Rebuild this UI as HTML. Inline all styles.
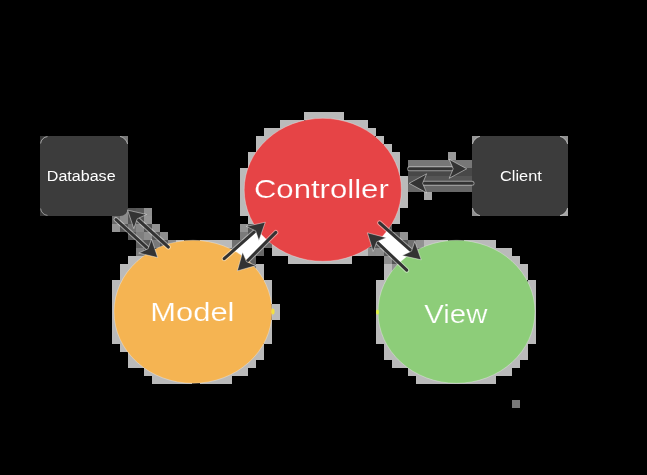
<!DOCTYPE html>
<html><head><meta charset="utf-8"><style>
html,body{margin:0;padding:0;background:#000;width:647px;height:475px;overflow:hidden}
svg{display:block;will-change:transform}
text{font-family:"Liberation Sans",sans-serif}
</style></head><body>
<svg width="647" height="475" viewBox="0 0 647 475">
<rect width="647" height="475" fill="#000"/>
<rect x="304" y="112" width="8" height="8" fill="rgb(186,186,186)"/>
<rect x="312" y="112" width="8" height="8" fill="rgb(186,186,186)"/>
<rect x="320" y="112" width="8" height="8" fill="rgb(186,186,186)"/>
<rect x="328" y="112" width="8" height="8" fill="rgb(186,186,186)"/>
<rect x="336" y="112" width="8" height="8" fill="rgb(186,186,186)"/>
<rect x="280" y="120" width="8" height="8" fill="rgb(186,186,186)"/>
<rect x="288" y="120" width="8" height="8" fill="rgb(186,186,186)"/>
<rect x="296" y="120" width="8" height="8" fill="rgb(186,186,186)"/>
<rect x="336" y="120" width="8" height="8" fill="rgb(186,186,186)"/>
<rect x="344" y="120" width="8" height="8" fill="rgb(186,186,186)"/>
<rect x="352" y="120" width="8" height="8" fill="rgb(186,186,186)"/>
<rect x="360" y="120" width="8" height="8" fill="rgb(186,186,186)"/>
<rect x="264" y="128" width="8" height="8" fill="rgb(186,186,186)"/>
<rect x="272" y="128" width="8" height="8" fill="rgb(186,186,186)"/>
<rect x="280" y="128" width="8" height="8" fill="rgb(186,186,186)"/>
<rect x="360" y="128" width="8" height="8" fill="rgb(186,186,186)"/>
<rect x="368" y="128" width="8" height="8" fill="rgb(186,186,186)"/>
<rect x="40" y="136" width="8" height="8" fill="rgb(60,60,60)"/>
<rect x="120" y="136" width="8" height="8" fill="rgb(140,140,140)"/>
<rect x="256" y="136" width="8" height="8" fill="rgb(186,186,186)"/>
<rect x="264" y="136" width="8" height="8" fill="rgb(186,186,186)"/>
<rect x="376" y="136" width="8" height="8" fill="rgb(186,186,186)"/>
<rect x="472" y="136" width="8" height="8" fill="rgb(140,140,140)"/>
<rect x="560" y="136" width="8" height="8" fill="rgb(140,140,140)"/>
<rect x="256" y="144" width="8" height="8" fill="rgb(186,186,186)"/>
<rect x="384" y="144" width="8" height="8" fill="rgb(186,186,186)"/>
<rect x="248" y="152" width="8" height="8" fill="rgb(186,186,186)"/>
<rect x="384" y="152" width="8" height="8" fill="rgb(186,186,186)"/>
<rect x="392" y="152" width="8" height="8" fill="rgb(186,186,186)"/>
<rect x="448" y="152" width="8" height="8" fill="rgb(153,153,153)"/>
<rect x="248" y="160" width="8" height="8" fill="rgb(186,186,186)"/>
<rect x="392" y="160" width="8" height="8" fill="rgb(186,186,186)"/>
<rect x="408" y="160" width="8" height="8" fill="rgb(119,119,119)"/>
<rect x="416" y="160" width="8" height="8" fill="rgb(119,119,119)"/>
<rect x="424" y="160" width="8" height="8" fill="rgb(119,119,119)"/>
<rect x="432" y="160" width="8" height="8" fill="rgb(119,119,119)"/>
<rect x="440" y="160" width="8" height="8" fill="rgb(119,119,119)"/>
<rect x="448" y="160" width="8" height="8" fill="rgb(119,119,119)"/>
<rect x="456" y="160" width="8" height="8" fill="rgb(119,119,119)"/>
<rect x="464" y="160" width="8" height="8" fill="rgb(119,119,119)"/>
<rect x="240" y="168" width="8" height="8" fill="rgb(186,186,186)"/>
<rect x="392" y="168" width="8" height="8" fill="rgb(186,186,186)"/>
<rect x="408" y="168" width="8" height="8" fill="rgb(72,72,72)"/>
<rect x="416" y="168" width="8" height="8" fill="rgb(72,72,72)"/>
<rect x="424" y="168" width="8" height="8" fill="rgb(72,72,72)"/>
<rect x="432" y="168" width="8" height="8" fill="rgb(72,72,72)"/>
<rect x="440" y="168" width="8" height="8" fill="rgb(72,72,72)"/>
<rect x="448" y="168" width="8" height="8" fill="rgb(72,72,72)"/>
<rect x="456" y="168" width="8" height="8" fill="rgb(72,72,72)"/>
<rect x="464" y="168" width="8" height="8" fill="rgb(72,72,72)"/>
<rect x="240" y="176" width="8" height="8" fill="rgb(186,186,186)"/>
<rect x="400" y="176" width="8" height="8" fill="rgb(186,186,186)"/>
<rect x="408" y="176" width="8" height="8" fill="rgb(85,85,85)"/>
<rect x="416" y="176" width="8" height="8" fill="rgb(85,85,85)"/>
<rect x="424" y="176" width="8" height="8" fill="rgb(85,85,85)"/>
<rect x="432" y="176" width="8" height="8" fill="rgb(85,85,85)"/>
<rect x="440" y="176" width="8" height="8" fill="rgb(85,85,85)"/>
<rect x="448" y="176" width="8" height="8" fill="rgb(85,85,85)"/>
<rect x="456" y="176" width="8" height="8" fill="rgb(85,85,85)"/>
<rect x="464" y="176" width="8" height="8" fill="rgb(85,85,85)"/>
<rect x="240" y="184" width="8" height="8" fill="rgb(186,186,186)"/>
<rect x="400" y="184" width="8" height="8" fill="rgb(186,186,186)"/>
<rect x="408" y="184" width="8" height="8" fill="rgb(103,103,103)"/>
<rect x="416" y="184" width="8" height="8" fill="rgb(103,103,103)"/>
<rect x="424" y="184" width="8" height="8" fill="rgb(103,103,103)"/>
<rect x="432" y="184" width="8" height="8" fill="rgb(103,103,103)"/>
<rect x="440" y="184" width="8" height="8" fill="rgb(103,103,103)"/>
<rect x="448" y="184" width="8" height="8" fill="rgb(103,103,103)"/>
<rect x="456" y="184" width="8" height="8" fill="rgb(103,103,103)"/>
<rect x="464" y="184" width="8" height="8" fill="rgb(103,103,103)"/>
<rect x="240" y="192" width="8" height="8" fill="rgb(186,186,186)"/>
<rect x="400" y="192" width="8" height="8" fill="rgb(186,186,186)"/>
<rect x="424" y="192" width="8" height="8" fill="rgb(168,168,168)"/>
<rect x="240" y="200" width="8" height="8" fill="rgb(186,186,186)"/>
<rect x="392" y="200" width="8" height="8" fill="rgb(186,186,186)"/>
<rect x="400" y="200" width="8" height="8" fill="rgb(186,186,186)"/>
<rect x="40" y="208" width="8" height="8" fill="rgb(60,60,60)"/>
<rect x="120" y="208" width="8" height="8" fill="rgb(140,140,140)"/>
<rect x="128" y="208" width="8" height="8" fill="rgb(85,85,85)"/>
<rect x="136" y="208" width="8" height="8" fill="rgb(89,89,89)"/>
<rect x="144" y="208" width="8" height="8" fill="rgb(144,144,144)"/>
<rect x="240" y="208" width="8" height="8" fill="rgb(186,186,186)"/>
<rect x="248" y="208" width="8" height="8" fill="rgb(186,186,186)"/>
<rect x="392" y="208" width="8" height="8" fill="rgb(186,186,186)"/>
<rect x="472" y="208" width="8" height="8" fill="rgb(140,140,140)"/>
<rect x="560" y="208" width="8" height="8" fill="rgb(140,140,140)"/>
<rect x="112" y="216" width="8" height="8" fill="rgb(105,105,105)"/>
<rect x="120" y="216" width="8" height="8" fill="rgb(139,139,139)"/>
<rect x="128" y="216" width="8" height="8" fill="rgb(85,85,85)"/>
<rect x="136" y="216" width="8" height="8" fill="rgb(85,85,85)"/>
<rect x="144" y="216" width="8" height="8" fill="rgb(148,148,148)"/>
<rect x="248" y="216" width="8" height="8" fill="rgb(186,186,186)"/>
<rect x="392" y="216" width="8" height="8" fill="rgb(186,186,186)"/>
<rect x="112" y="224" width="8" height="8" fill="rgb(148,148,148)"/>
<rect x="120" y="224" width="8" height="8" fill="rgb(85,85,85)"/>
<rect x="128" y="224" width="8" height="8" fill="rgb(116,116,116)"/>
<rect x="136" y="224" width="8" height="8" fill="rgb(137,137,137)"/>
<rect x="144" y="224" width="8" height="8" fill="rgb(85,85,85)"/>
<rect x="152" y="224" width="8" height="8" fill="rgb(145,145,145)"/>
<rect x="240" y="224" width="8" height="8" fill="rgb(147,147,147)"/>
<rect x="248" y="224" width="8" height="8" fill="rgb(85,85,85)"/>
<rect x="384" y="224" width="8" height="8" fill="rgb(90,90,90)"/>
<rect x="128" y="232" width="8" height="8" fill="rgb(89,89,89)"/>
<rect x="136" y="232" width="8" height="8" fill="rgb(126,126,126)"/>
<rect x="144" y="232" width="8" height="8" fill="rgb(141,141,141)"/>
<rect x="152" y="232" width="8" height="8" fill="rgb(85,85,85)"/>
<rect x="160" y="232" width="8" height="8" fill="rgb(141,141,141)"/>
<rect x="240" y="232" width="8" height="8" fill="rgb(122,122,122)"/>
<rect x="248" y="232" width="8" height="8" fill="rgb(87,87,87)"/>
<rect x="256" y="232" width="8" height="8" fill="rgb(87,87,87)"/>
<rect x="264" y="232" width="8" height="8" fill="rgb(107,107,107)"/>
<rect x="376" y="232" width="8" height="8" fill="rgb(85,85,85)"/>
<rect x="384" y="232" width="8" height="8" fill="rgb(124,124,124)"/>
<rect x="392" y="232" width="8" height="8" fill="rgb(85,85,85)"/>
<rect x="400" y="232" width="8" height="8" fill="rgb(148,148,148)"/>
<rect x="136" y="240" width="8" height="8" fill="rgb(97,97,97)"/>
<rect x="144" y="240" width="8" height="8" fill="rgb(85,85,85)"/>
<rect x="152" y="240" width="8" height="8" fill="rgb(122,122,122)"/>
<rect x="160" y="240" width="8" height="8" fill="rgb(85,85,85)"/>
<rect x="168" y="240" width="8" height="8" fill="rgb(139,139,139)"/>
<rect x="176" y="240" width="8" height="8" fill="rgb(186,186,186)"/>
<rect x="200" y="240" width="8" height="8" fill="rgb(186,186,186)"/>
<rect x="208" y="240" width="8" height="8" fill="rgb(186,186,186)"/>
<rect x="216" y="240" width="8" height="8" fill="rgb(186,186,186)"/>
<rect x="224" y="240" width="8" height="8" fill="rgb(186,186,186)"/>
<rect x="232" y="240" width="8" height="8" fill="rgb(112,112,112)"/>
<rect x="240" y="240" width="8" height="8" fill="rgb(97,97,97)"/>
<rect x="256" y="240" width="8" height="8" fill="rgb(107,107,107)"/>
<rect x="264" y="240" width="8" height="8" fill="rgb(104,104,104)"/>
<rect x="272" y="240" width="8" height="8" fill="rgb(186,186,186)"/>
<rect x="368" y="240" width="8" height="8" fill="rgb(85,85,85)"/>
<rect x="376" y="240" width="8" height="8" fill="rgb(85,85,85)"/>
<rect x="384" y="240" width="8" height="8" fill="rgb(147,147,147)"/>
<rect x="392" y="240" width="8" height="8" fill="rgb(137,137,137)"/>
<rect x="400" y="240" width="8" height="8" fill="rgb(85,85,85)"/>
<rect x="408" y="240" width="8" height="8" fill="rgb(112,112,112)"/>
<rect x="416" y="240" width="8" height="8" fill="rgb(145,145,145)"/>
<rect x="424" y="240" width="8" height="8" fill="rgb(186,186,186)"/>
<rect x="432" y="240" width="8" height="8" fill="rgb(186,186,186)"/>
<rect x="440" y="240" width="8" height="8" fill="rgb(186,186,186)"/>
<rect x="464" y="240" width="8" height="8" fill="rgb(186,186,186)"/>
<rect x="472" y="240" width="8" height="8" fill="rgb(186,186,186)"/>
<rect x="480" y="240" width="8" height="8" fill="rgb(186,186,186)"/>
<rect x="488" y="240" width="8" height="8" fill="rgb(186,186,186)"/>
<rect x="136" y="248" width="8" height="8" fill="rgb(126,126,126)"/>
<rect x="144" y="248" width="8" height="8" fill="rgb(85,85,85)"/>
<rect x="224" y="248" width="8" height="8" fill="rgb(102,102,102)"/>
<rect x="232" y="248" width="8" height="8" fill="rgb(107,107,107)"/>
<rect x="240" y="248" width="8" height="8" fill="rgb(137,137,137)"/>
<rect x="248" y="248" width="8" height="8" fill="rgb(109,109,109)"/>
<rect x="256" y="248" width="8" height="8" fill="rgb(104,104,104)"/>
<rect x="272" y="248" width="8" height="8" fill="rgb(186,186,186)"/>
<rect x="280" y="248" width="8" height="8" fill="rgb(186,186,186)"/>
<rect x="288" y="248" width="8" height="8" fill="rgb(186,186,186)"/>
<rect x="352" y="248" width="8" height="8" fill="rgb(186,186,186)"/>
<rect x="360" y="248" width="8" height="8" fill="rgb(186,186,186)"/>
<rect x="368" y="248" width="8" height="8" fill="rgb(139,139,139)"/>
<rect x="376" y="248" width="8" height="8" fill="rgb(141,141,141)"/>
<rect x="384" y="248" width="8" height="8" fill="rgb(85,85,85)"/>
<rect x="392" y="248" width="8" height="8" fill="rgb(145,145,145)"/>
<rect x="400" y="248" width="8" height="8" fill="rgb(118,118,118)"/>
<rect x="408" y="248" width="8" height="8" fill="rgb(85,85,85)"/>
<rect x="416" y="248" width="8" height="8" fill="rgb(100,100,100)"/>
<rect x="488" y="248" width="8" height="8" fill="rgb(186,186,186)"/>
<rect x="496" y="248" width="8" height="8" fill="rgb(186,186,186)"/>
<rect x="504" y="248" width="8" height="8" fill="rgb(186,186,186)"/>
<rect x="128" y="256" width="8" height="8" fill="rgb(186,186,186)"/>
<rect x="136" y="256" width="8" height="8" fill="rgb(186,186,186)"/>
<rect x="240" y="256" width="8" height="8" fill="rgb(85,85,85)"/>
<rect x="248" y="256" width="8" height="8" fill="rgb(97,97,97)"/>
<rect x="288" y="256" width="8" height="8" fill="rgb(186,186,186)"/>
<rect x="296" y="256" width="8" height="8" fill="rgb(186,186,186)"/>
<rect x="304" y="256" width="8" height="8" fill="rgb(186,186,186)"/>
<rect x="312" y="256" width="8" height="8" fill="rgb(186,186,186)"/>
<rect x="320" y="256" width="8" height="8" fill="rgb(186,186,186)"/>
<rect x="328" y="256" width="8" height="8" fill="rgb(186,186,186)"/>
<rect x="336" y="256" width="8" height="8" fill="rgb(186,186,186)"/>
<rect x="344" y="256" width="8" height="8" fill="rgb(186,186,186)"/>
<rect x="384" y="256" width="8" height="8" fill="rgb(143,143,143)"/>
<rect x="392" y="256" width="8" height="8" fill="rgb(85,85,85)"/>
<rect x="400" y="256" width="8" height="8" fill="rgb(139,139,139)"/>
<rect x="504" y="256" width="8" height="8" fill="rgb(186,186,186)"/>
<rect x="512" y="256" width="8" height="8" fill="rgb(186,186,186)"/>
<rect x="120" y="264" width="8" height="8" fill="rgb(186,186,186)"/>
<rect x="128" y="264" width="8" height="8" fill="rgb(186,186,186)"/>
<rect x="248" y="264" width="8" height="8" fill="rgb(103,103,103)"/>
<rect x="256" y="264" width="8" height="8" fill="rgb(186,186,186)"/>
<rect x="384" y="264" width="8" height="8" fill="rgb(186,186,186)"/>
<rect x="392" y="264" width="8" height="8" fill="rgb(145,145,145)"/>
<rect x="512" y="264" width="8" height="8" fill="rgb(186,186,186)"/>
<rect x="520" y="264" width="8" height="8" fill="rgb(186,186,186)"/>
<rect x="120" y="272" width="8" height="8" fill="rgb(186,186,186)"/>
<rect x="256" y="272" width="8" height="8" fill="rgb(186,186,186)"/>
<rect x="384" y="272" width="8" height="8" fill="rgb(186,186,186)"/>
<rect x="520" y="272" width="8" height="8" fill="rgb(186,186,186)"/>
<rect x="112" y="280" width="8" height="8" fill="rgb(186,186,186)"/>
<rect x="120" y="280" width="8" height="8" fill="rgb(186,186,186)"/>
<rect x="264" y="280" width="8" height="8" fill="rgb(186,186,186)"/>
<rect x="376" y="280" width="8" height="8" fill="rgb(186,186,186)"/>
<rect x="384" y="280" width="8" height="8" fill="rgb(186,186,186)"/>
<rect x="528" y="280" width="8" height="8" fill="rgb(186,186,186)"/>
<rect x="112" y="288" width="8" height="8" fill="rgb(186,186,186)"/>
<rect x="264" y="288" width="8" height="8" fill="rgb(186,186,186)"/>
<rect x="376" y="288" width="8" height="8" fill="rgb(186,186,186)"/>
<rect x="528" y="288" width="8" height="8" fill="rgb(186,186,186)"/>
<rect x="112" y="296" width="8" height="8" fill="rgb(186,186,186)"/>
<rect x="264" y="296" width="8" height="8" fill="rgb(186,186,186)"/>
<rect x="376" y="296" width="8" height="8" fill="rgb(186,186,186)"/>
<rect x="528" y="296" width="8" height="8" fill="rgb(186,186,186)"/>
<rect x="112" y="304" width="8" height="8" fill="rgb(186,186,186)"/>
<rect x="376" y="304" width="8" height="8" fill="rgb(186,186,186)"/>
<rect x="528" y="304" width="8" height="8" fill="rgb(186,186,186)"/>
<rect x="112" y="312" width="8" height="8" fill="rgb(186,186,186)"/>
<rect x="376" y="312" width="8" height="8" fill="rgb(186,186,186)"/>
<rect x="528" y="312" width="8" height="8" fill="rgb(186,186,186)"/>
<rect x="112" y="320" width="8" height="8" fill="rgb(186,186,186)"/>
<rect x="264" y="320" width="8" height="8" fill="rgb(186,186,186)"/>
<rect x="376" y="320" width="8" height="8" fill="rgb(186,186,186)"/>
<rect x="528" y="320" width="8" height="8" fill="rgb(186,186,186)"/>
<rect x="112" y="328" width="8" height="8" fill="rgb(186,186,186)"/>
<rect x="264" y="328" width="8" height="8" fill="rgb(186,186,186)"/>
<rect x="376" y="328" width="8" height="8" fill="rgb(186,186,186)"/>
<rect x="528" y="328" width="8" height="8" fill="rgb(186,186,186)"/>
<rect x="112" y="336" width="8" height="8" fill="rgb(186,186,186)"/>
<rect x="120" y="336" width="8" height="8" fill="rgb(186,186,186)"/>
<rect x="264" y="336" width="8" height="8" fill="rgb(186,186,186)"/>
<rect x="376" y="336" width="8" height="8" fill="rgb(186,186,186)"/>
<rect x="384" y="336" width="8" height="8" fill="rgb(186,186,186)"/>
<rect x="520" y="336" width="8" height="8" fill="rgb(186,186,186)"/>
<rect x="528" y="336" width="8" height="8" fill="rgb(186,186,186)"/>
<rect x="120" y="344" width="8" height="8" fill="rgb(186,186,186)"/>
<rect x="256" y="344" width="8" height="8" fill="rgb(186,186,186)"/>
<rect x="384" y="344" width="8" height="8" fill="rgb(186,186,186)"/>
<rect x="520" y="344" width="8" height="8" fill="rgb(186,186,186)"/>
<rect x="128" y="352" width="8" height="8" fill="rgb(186,186,186)"/>
<rect x="248" y="352" width="8" height="8" fill="rgb(186,186,186)"/>
<rect x="256" y="352" width="8" height="8" fill="rgb(186,186,186)"/>
<rect x="384" y="352" width="8" height="8" fill="rgb(186,186,186)"/>
<rect x="392" y="352" width="8" height="8" fill="rgb(186,186,186)"/>
<rect x="512" y="352" width="8" height="8" fill="rgb(186,186,186)"/>
<rect x="520" y="352" width="8" height="8" fill="rgb(186,186,186)"/>
<rect x="128" y="360" width="8" height="8" fill="rgb(186,186,186)"/>
<rect x="136" y="360" width="8" height="8" fill="rgb(186,186,186)"/>
<rect x="240" y="360" width="8" height="8" fill="rgb(186,186,186)"/>
<rect x="248" y="360" width="8" height="8" fill="rgb(186,186,186)"/>
<rect x="392" y="360" width="8" height="8" fill="rgb(186,186,186)"/>
<rect x="400" y="360" width="8" height="8" fill="rgb(186,186,186)"/>
<rect x="504" y="360" width="8" height="8" fill="rgb(186,186,186)"/>
<rect x="512" y="360" width="8" height="8" fill="rgb(186,186,186)"/>
<rect x="144" y="368" width="8" height="8" fill="rgb(186,186,186)"/>
<rect x="152" y="368" width="8" height="8" fill="rgb(186,186,186)"/>
<rect x="224" y="368" width="8" height="8" fill="rgb(186,186,186)"/>
<rect x="232" y="368" width="8" height="8" fill="rgb(186,186,186)"/>
<rect x="240" y="368" width="8" height="8" fill="rgb(186,186,186)"/>
<rect x="408" y="368" width="8" height="8" fill="rgb(186,186,186)"/>
<rect x="416" y="368" width="8" height="8" fill="rgb(186,186,186)"/>
<rect x="488" y="368" width="8" height="8" fill="rgb(186,186,186)"/>
<rect x="496" y="368" width="8" height="8" fill="rgb(186,186,186)"/>
<rect x="504" y="368" width="8" height="8" fill="rgb(186,186,186)"/>
<rect x="152" y="376" width="8" height="8" fill="rgb(186,186,186)"/>
<rect x="160" y="376" width="8" height="8" fill="rgb(186,186,186)"/>
<rect x="168" y="376" width="8" height="8" fill="rgb(186,186,186)"/>
<rect x="176" y="376" width="8" height="8" fill="rgb(186,186,186)"/>
<rect x="184" y="376" width="8" height="8" fill="rgb(186,186,186)"/>
<rect x="200" y="376" width="8" height="8" fill="rgb(186,186,186)"/>
<rect x="208" y="376" width="8" height="8" fill="rgb(186,186,186)"/>
<rect x="216" y="376" width="8" height="8" fill="rgb(186,186,186)"/>
<rect x="224" y="376" width="8" height="8" fill="rgb(186,186,186)"/>
<rect x="416" y="376" width="8" height="8" fill="rgb(186,186,186)"/>
<rect x="424" y="376" width="8" height="8" fill="rgb(186,186,186)"/>
<rect x="432" y="376" width="8" height="8" fill="rgb(186,186,186)"/>
<rect x="440" y="376" width="8" height="8" fill="rgb(186,186,186)"/>
<rect x="448" y="376" width="8" height="8" fill="rgb(186,186,186)"/>
<rect x="456" y="376" width="8" height="8" fill="rgb(186,186,186)"/>
<rect x="464" y="376" width="8" height="8" fill="rgb(186,186,186)"/>
<rect x="472" y="376" width="8" height="8" fill="rgb(186,186,186)"/>
<rect x="480" y="376" width="8" height="8" fill="rgb(186,186,186)"/>
<rect x="488" y="376" width="8" height="8" fill="rgb(186,186,186)"/>
<rect x="272" y="304" width="8" height="8" fill="rgb(186,186,186)"/>
<rect x="272" y="312" width="8" height="8" fill="rgb(186,186,186)"/>
<rect x="512" y="400" width="8" height="8" fill="#787878"/>
<rect x="40" y="136" width="88" height="80" rx="8" fill="#3c3c3c"/>
<rect x="472" y="136" width="96" height="80" rx="8" fill="#3c3c3c"/>
<rect x="472" y="136" width="8" height="8" fill="rgb(150,150,150)"/>
<path d="M472.42,144.00 A11,11 0 0 1 480.00,136.42 L480,144 Z" fill="#3c3c3c"/>
<path d="M472.42,144.00 A11,11 0 0 1 480.00,136.42" fill="none" stroke="rgba(255,255,255,0.5)" stroke-width="0.9"/>
<rect x="560" y="136" width="8" height="8" fill="rgb(144,144,144)"/>
<path d="M567.58,144.00 A11,11 0 0 0 560.00,136.42 L560,144 Z" fill="#3c3c3c"/>
<path d="M567.58,144.00 A11,11 0 0 0 560.00,136.42" fill="none" stroke="rgba(255,255,255,0.5)" stroke-width="0.9"/>
<rect x="472" y="208" width="8" height="8" fill="rgb(144,144,144)"/>
<path d="M472.42,208.00 A11,11 0 0 0 480.00,215.58 L480,208 Z" fill="#3c3c3c"/>
<path d="M472.42,208.00 A11,11 0 0 0 480.00,215.58" fill="none" stroke="rgba(255,255,255,0.5)" stroke-width="0.9"/>
<rect x="560" y="208" width="8" height="8" fill="rgb(166,166,166)"/>
<path d="M567.58,208.00 A11,11 0 0 1 560.00,215.58 L560,208 Z" fill="#3c3c3c"/>
<path d="M567.58,208.00 A11,11 0 0 1 560.00,215.58" fill="none" stroke="rgba(255,255,255,0.5)" stroke-width="0.9"/>
<rect x="120" y="136" width="8" height="8" fill="rgb(120,120,120)"/>
<path d="M127.58,144.00 A11,11 0 0 0 120.00,136.42 L120,144 Z" fill="#3c3c3c"/>
<path d="M127.58,144.00 A11,11 0 0 0 120.00,136.42" fill="none" stroke="rgba(255,255,255,0.5)" stroke-width="0.9"/>
<rect x="40" y="136" width="8" height="8" fill="#363636"/>
<path d="M40,144 A8,8 0 0 1 48,136 L48,144 Z" fill="#3c3c3c"/>
<path d="M40.6,143.5 A7.6,7.6 0 0 1 47.5,136.6" fill="none" stroke="rgba(255,255,255,0.6)" stroke-width="0.9"/>
<rect x="40" y="208" width="8" height="8" fill="#363636"/>
<path d="M40,208 A8,8 0 0 0 48,216 L48,208 Z" fill="#3c3c3c"/>
<path d="M40.6,208.5 A7.6,7.6 0 0 0 47.5,215.4" fill="none" stroke="rgba(255,255,255,0.5)" stroke-width="0.9"/>
<polygon points="224.20,258.70 236.85,271.35 275.80,232.40 266.11,221.48" fill="#fff"/>
<polygon points="379.60,222.80 368.81,234.14 406.70,270.20 418.27,257.19" fill="#fff"/>
<ellipse cx="322.8" cy="189.8" rx="78.6" ry="71.5" fill="#e64446" stroke="rgba(255,255,255,0.3)" stroke-width="1"/>
<ellipse cx="193" cy="311.8" rx="79" ry="71.5" fill="#f5b452" stroke="rgba(255,255,255,0.3)" stroke-width="1"/>
<ellipse cx="456.5" cy="311.8" rx="78.5" ry="71.5" fill="#8dcd79" stroke="rgba(255,255,255,0.3)" stroke-width="1"/>
<line x1="116.00" y1="219.50" x2="148.09" y2="248.74" stroke="rgba(255,255,255,0.45)" stroke-width="5" stroke-linecap="round"/><line x1="116.00" y1="219.50" x2="148.09" y2="248.74" stroke="#333333" stroke-width="3" stroke-linecap="round"/><path d="M157.70,257.50 L138.74,253.07 L148.09,248.74 L151.53,239.03Z" fill="#333333" stroke="rgba(255,255,255,0.45)" stroke-width="1" stroke-linejoin="round"/>
<line x1="168.40" y1="247.10" x2="137.23" y2="218.83" stroke="rgba(255,255,255,0.45)" stroke-width="5" stroke-linecap="round"/><line x1="168.40" y1="247.10" x2="137.23" y2="218.83" stroke="#333333" stroke-width="3" stroke-linecap="round"/><path d="M127.60,210.10 L146.57,214.48 L137.23,218.83 L133.81,228.56Z" fill="#333333" stroke="rgba(255,255,255,0.45)" stroke-width="1" stroke-linejoin="round"/>
<line x1="224.20" y1="258.70" x2="255.58" y2="230.83" stroke="rgba(255,255,255,0.45)" stroke-width="5" stroke-linecap="round"/><line x1="224.20" y1="258.70" x2="255.58" y2="230.83" stroke="#333333" stroke-width="3" stroke-linecap="round"/><path d="M265.30,222.20 L258.90,240.59 L255.58,230.83 L246.28,226.39Z" fill="#333333" stroke="rgba(255,255,255,0.45)" stroke-width="1" stroke-linejoin="round"/>
<line x1="275.80" y1="232.40" x2="246.49" y2="261.71" stroke="rgba(255,255,255,0.45)" stroke-width="5" stroke-linecap="round"/><line x1="275.80" y1="232.40" x2="246.49" y2="261.71" stroke="#333333" stroke-width="3" stroke-linecap="round"/><path d="M237.30,270.90 L242.60,252.16 L246.49,261.71 L256.04,265.60Z" fill="#333333" stroke="rgba(255,255,255,0.45)" stroke-width="1" stroke-linejoin="round"/>
<line x1="379.60" y1="222.80" x2="411.49" y2="251.16" stroke="rgba(255,255,255,0.45)" stroke-width="5" stroke-linecap="round"/><line x1="379.60" y1="222.80" x2="411.49" y2="251.16" stroke="#333333" stroke-width="3" stroke-linecap="round"/><path d="M421.20,259.80 L402.18,255.60 L411.49,251.16 L414.81,241.40Z" fill="#333333" stroke="rgba(255,255,255,0.45)" stroke-width="1" stroke-linejoin="round"/>
<line x1="406.70" y1="270.20" x2="376.82" y2="241.76" stroke="rgba(255,255,255,0.45)" stroke-width="5" stroke-linecap="round"/><line x1="406.70" y1="270.20" x2="376.82" y2="241.76" stroke="#333333" stroke-width="3" stroke-linecap="round"/><path d="M367.40,232.80 L386.26,237.64 L376.82,241.76 L373.17,251.40Z" fill="#333333" stroke="rgba(255,255,255,0.45)" stroke-width="1" stroke-linejoin="round"/>
<line x1="409.50" y1="168.80" x2="453.20" y2="168.80" stroke="rgba(255,255,255,0.45)" stroke-width="5" stroke-linecap="round"/><line x1="409.50" y1="168.80" x2="453.20" y2="168.80" stroke="#333333" stroke-width="3" stroke-linecap="round"/><path d="M466.70,168.80 L449.20,178.30 L453.20,168.80 L449.20,159.30Z" fill="#333333" stroke="rgba(255,255,255,0.45)" stroke-width="1" stroke-linejoin="round"/>
<line x1="472.00" y1="183.30" x2="422.60" y2="183.30" stroke="rgba(255,255,255,0.45)" stroke-width="5" stroke-linecap="round"/><line x1="472.00" y1="183.30" x2="422.60" y2="183.30" stroke="#333333" stroke-width="3" stroke-linecap="round"/><path d="M409.10,183.30 L426.60,173.80 L422.60,183.30 L426.60,192.80Z" fill="#333333" stroke="rgba(255,255,255,0.45)" stroke-width="1" stroke-linejoin="round"/>
<ellipse cx="273" cy="311.5" rx="1.6" ry="3" fill="#f2e040"/>
<ellipse cx="377.5" cy="312" rx="1.5" ry="2.5" fill="#e0f040"/>
<g opacity="0.999">
<text x="46.8" y="180.8" font-size="14" textLength="68.80" lengthAdjust="spacingAndGlyphs" fill="#fff">Database</text>
<text x="500.0" y="180.9" font-size="14" textLength="41.80" lengthAdjust="spacingAndGlyphs" fill="#fff">Client</text>
<text x="253.9" y="198.2" font-size="26" textLength="134.90" lengthAdjust="spacingAndGlyphs" fill="#fff" stroke="#e64446" stroke-width="0.2">Controller</text>
<text x="150.3" y="321.1" font-size="26" textLength="84.20" lengthAdjust="spacingAndGlyphs" fill="#fff" stroke="#f5b452" stroke-width="0.2">Model</text>
<text x="424.3" y="323" font-size="26" textLength="63.10" lengthAdjust="spacingAndGlyphs" fill="#fff" stroke="#8dcd79" stroke-width="0.2">View</text>
</g>
</svg></body></html>
